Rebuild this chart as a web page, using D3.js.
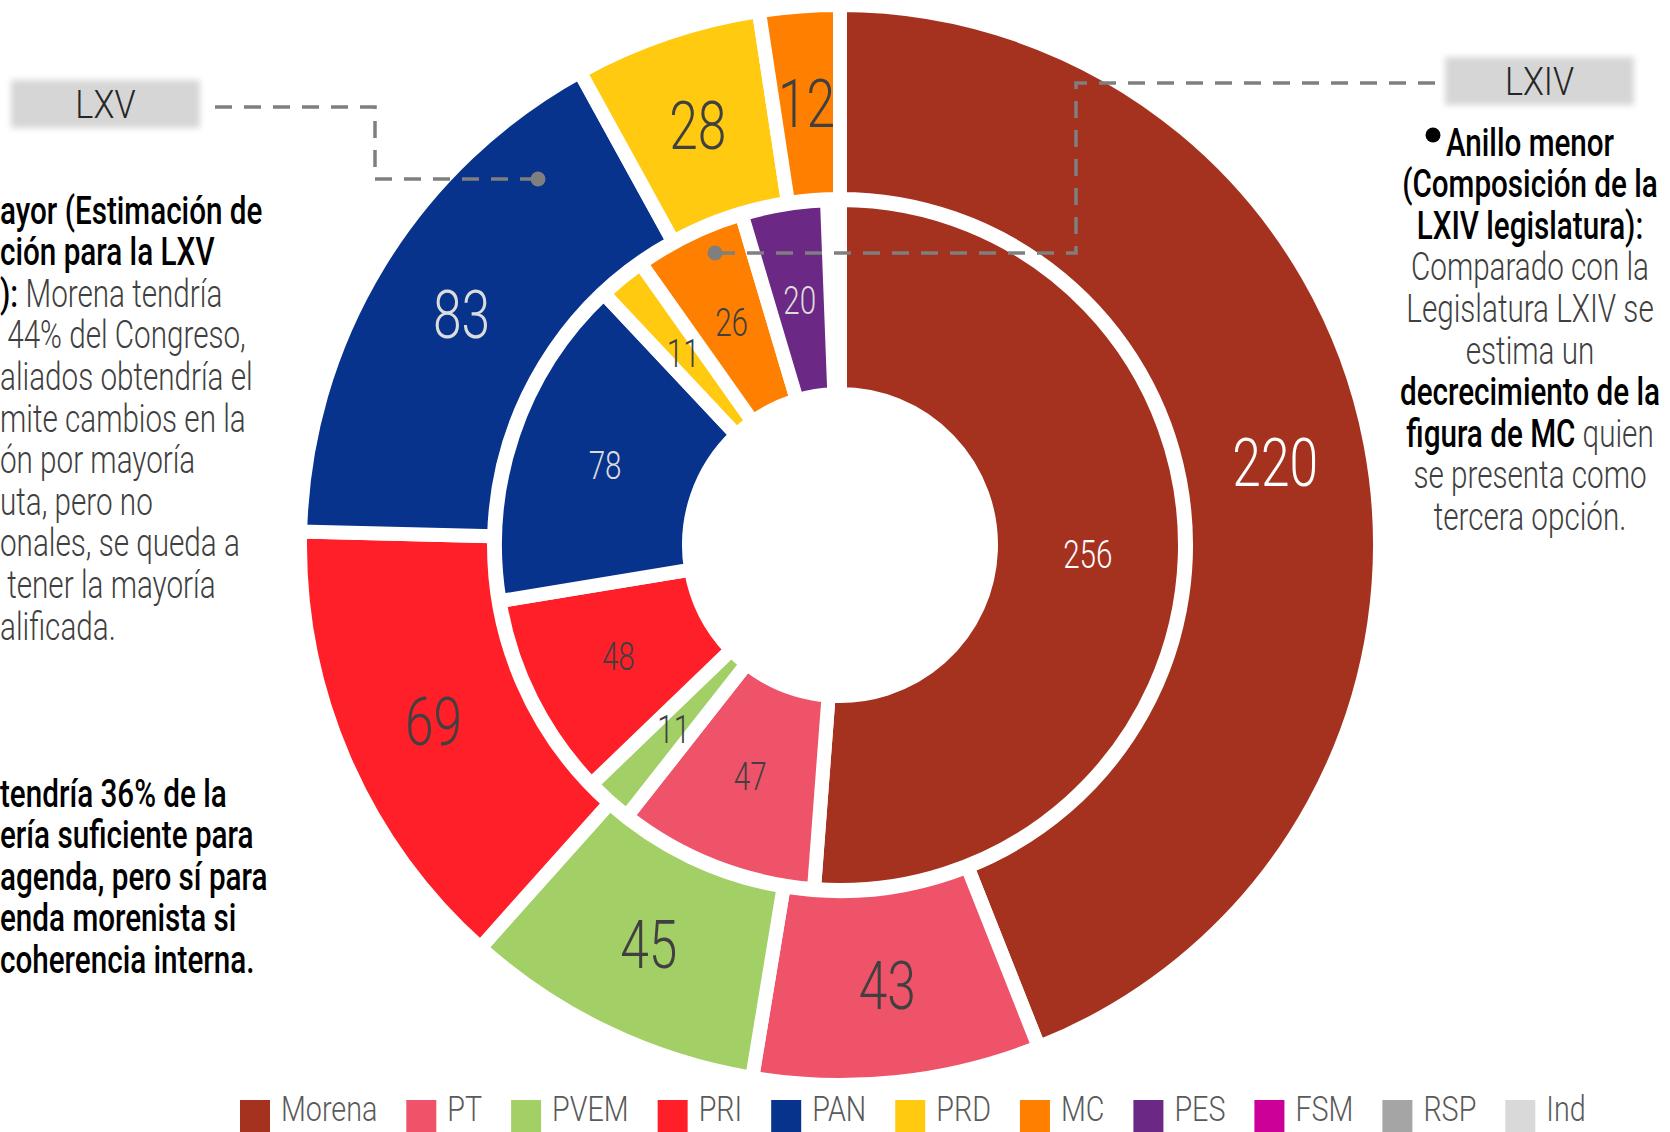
<!DOCTYPE html>
<html>
  <head>
    <meta charset="utf-8">
    <title>Composición LXIV vs estimación LXV</title>
    <script src="https://d3js.org/d3.v7.min.js"></script>
    <style>
      body { margin: 0; background-color: white; }
      svg { display: block; font-family: Roboto, "Noto Sans", sans-serif; }
    </style>
  </head>
  <body>
    <svg id="canvas" width="1670" height="1132"></svg>

    <script>
      // parties, colours and seats
      const parties = ['Morena', 'PT', 'PVEM', 'PRI', 'PAN', 'PRD', 'MC', 'PES', 'FSM', 'RSP', 'Ind']
      const partyColors = ['#a5321f', '#ef5369', '#a3cf67', '#fe1f28', '#07338c', '#ffca10',
                           '#ff7f00', '#6b2884', '#cc0099', '#a5a5a5', '#d9d9d9']
      // outer ring: LXV estimate
      const seatsLXV = [220, 43, 45, 69, 83, 28, 12, 0, 0, 0, 0]
      // inner ring: LXIV composition
      const seatsLXIV = [256, 47, 11, 48, 78, 11, 26, 20, 0, 0, 0]
      const totalSeats = 500

      // label colour: light labels on dark slices
      const lightOuter = ['Morena', 'PAN']
      const lightInner = ['Morena', 'PAN', 'PES']

      // side notes, [text, bold]
      const leftNoteA = [
        [['ayor (Estimación de', true]],
        [['ción para la LXV', true]],
        [['): ', true], ['Morena tendría', false]],
        [[' 44% del Congreso,', false]],
        [['aliados obtendría el', false]],
        [['mite cambios en la', false]],
        [['ón por mayoría', false]],
        [['uta, pero no', false]],
        [['onales, se queda a', false]],
        [[' tener la mayoría', false]],
        [['alificada.', false]]
      ]
      const leftNoteB = [
        [['tendría 36% de la', true]],
        [['ería suficiente para', true]],
        [['agenda, pero sí para', true]],
        [['enda morenista si', true]],
        [['coherencia interna.', true]]
      ]
      const rightNote = [
        [['Anillo menor', true]],
        [['(Composición de la', true]],
        [['LXIV legislatura):', true]],
        [['Comparado con la', false]],
        [['Legislatura LXIV se', false]],
        [['estima un', false]],
        [['decrecimiento de la', true]],
        [['figura de MC', true], [' quien', false]],
        [['se presenta como', false]],
        [['tercera opción.', false]]
      ]

      const svg = d3.select('#canvas')
      const cx = 840
      const cy = 545
      const gapWidth = 14
      const squeeze = 0.78 // the original font is condensed

      const color = d3.scaleOrdinal().domain(parties).range(partyColors)

      const toRows = seats => parties.map((p, i) => ({ party: p, seats: seats[i] }))

      const ring = (seats, r0, r1, cls) => {
        const sum = d3.sum(seats)
        const pie = d3.pie()
          .sort(null)
          .value(d => d.seats)
          .startAngle(0)
          .endAngle(2 * Math.PI * sum / totalSeats)
        const arc = d3.arc().innerRadius(r0).outerRadius(r1)
        const slices = pie(toRows(seats)).filter(d => d.data.seats > 0)

        const g = svg.append('g')
          .attr('class', cls)
          .attr('transform', `translate(${cx}, ${cy})`)

        g.selectAll('path')
          .data(slices)
          .enter()
          .append('path')
            .attr('d', arc)
            .attr('fill', d => color(d.data.party))
            .attr('stroke', '#fff')
            .attr('stroke-width', gapWidth)
            .attr('stroke-linejoin', 'miter')

        return { g, arc, slices }
      }

      const outer = ring(seatsLXV, 346, 540, 'outer')
      const inner = ring(seatsLXIV, 151, 345, 'inner')

      // slice labels
      const sliceLabels = (r, size, light) => {
        r.g.selectAll('text')
          .data(r.slices)
          .enter()
          .append('text')
            .attr('transform', d => {
              const [x, y] = r.arc.centroid(d)
              return `translate(${x}, ${y}) scale(${squeeze}, 1)`
            })
            .attr('text-anchor', 'middle')
            .attr('dy', '0.36em')
            .attr('font-size', size)
            .attr('font-weight', 300)
            .attr('fill', d => {
              if (!light.includes(d.data.party)) return '#404040'
              return d.data.party === 'Morena' ? '#ffffff' : '#dcdcdc'
            })
            .text(d => d.data.seats)
      }
      sliceLabels(outer, 66, lightOuter)
      sliceLabels(inner, 38, lightInner)

      // LXV / LXIV tags with connectors
      const defs = svg.append('defs')
      defs.append('filter')
        .attr('id', 'soft')
        .attr('x', '-10%').attr('y', '-30%')
        .attr('width', '120%').attr('height', '160%')
        .append('feGaussianBlur')
          .attr('stdDeviation', 3)

      const tag = (x, y, w, h, label) => {
        svg.append('rect')
          .attr('x', x).attr('y', y)
          .attr('width', w).attr('height', h)
          .attr('fill', '#d6d6d6')
          .attr('filter', 'url(#soft)')
        svg.append('text')
          .attr('transform', `translate(${x + w / 2}, ${y + h / 2}) scale(0.9, 1)`)
          .attr('text-anchor', 'middle')
          .attr('dy', '0.36em')
          .attr('font-size', 38)
          .attr('font-weight', 300)
          .attr('fill', '#262626')
          .text(label)
      }

      const connector = pts => {
        svg.append('path')
          .attr('d', d3.line()(pts))
          .attr('fill', 'none')
          .attr('stroke', '#7f7f7f')
          .attr('stroke-width', 3.5)
          .attr('stroke-dasharray', '17 12')
        const end = pts[pts.length - 1]
        svg.append('circle')
          .attr('cx', end[0]).attr('cy', end[1])
          .attr('r', 7.5)
          .attr('fill', '#7f7f7f')
      }

      connector([[215, 107], [375, 107], [375, 179], [538, 179]])
      connector([[1435, 83], [1076, 83], [1076, 253], [715, 253]])
      tag(11, 80, 189, 48, 'LXV')
      tag(1445, 57, 189, 48, 'LXIV')

      // text blocks
      const writeLines = (lines, x, y0, anchor) => {
        const lineHeight = 41.6
        lines.forEach((segs, i) => {
          const t = svg.append('text')
            .attr('transform', `translate(${x}, ${y0 + i * lineHeight}) scale(${squeeze}, 1)`)
            .attr('text-anchor', anchor)
            .attr('dy', '0.36em')
            .attr('font-size', 38)
            .attr('xml:space', 'preserve')
          segs.forEach(([s, bold]) => {
            t.append('tspan')
              .attr('font-weight', bold ? 500 : 300)
              .attr('fill', bold ? '#000000' : '#404040')
              .text(s)
          })
        })
      }

      writeLines(leftNoteA, 0, 210, 'start')
      writeLines(leftNoteB, 0, 793, 'start')
      writeLines(rightNote, 1530, 142, 'middle')

      // bullet before "Anillo menor"
      svg.append('circle')
        .attr('cx', 1433).attr('cy', 135)
        .attr('r', 7.5)
        .attr('fill', '#000')

      // legend
      const legend = svg.append('g').attr('class', 'legend')
      const legendScale = 0.82
      let lx = 240
      parties.forEach(p => {
        legend.append('rect')
          .attr('x', lx).attr('y', 1100)
          .attr('width', 30).attr('height', 32)
          .attr('fill', color(p))
        const t = legend.append('text')
          .attr('transform', `translate(${lx + 41}, 1108) scale(${legendScale}, 1)`)
          .attr('dy', '0.36em')
          .attr('font-size', 35)
          .attr('font-weight', 300)
          .attr('fill', '#595959')
          .text(p)
        lx += 41 + t.node().getComputedTextLength() * legendScale + 29
      })
    </script>
  </body>
</html>
